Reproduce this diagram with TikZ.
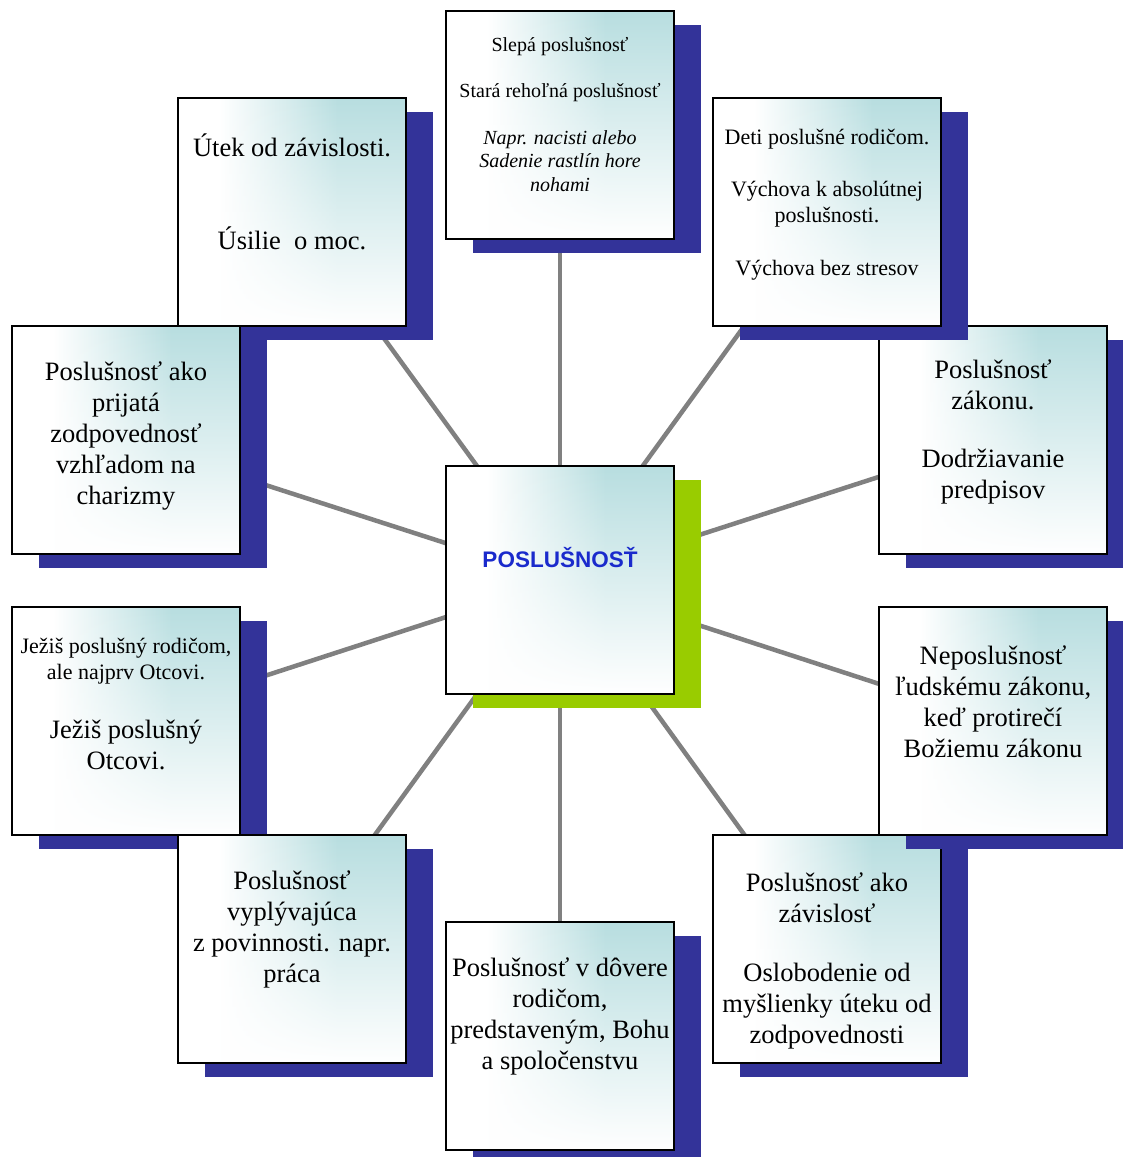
\documentclass[tikz,border=0pt]{standalone}
\usepackage{fontspec}
\setmainfont{Liberation Serif}
\newfontfamily\titlesans{Liberation Sans}
\usetikzlibrary{shadows,fadings,backgrounds}
\definecolor{boxteal}{RGB}{184,222,224}
\definecolor{shblue}{RGB}{51,51,153}
\definecolor{shgreen}{RGB}{153,204,0}
\definecolor{linegray}{RGB}{128,128,128}
\definecolor{titleblue}{RGB}{26,42,204}
\pgfdeclarehorizontalshading{boxh}{100bp}{color(0bp)=(white); color(34bp)=(white); color(60bp)=(boxteal); color(100bp)=(boxteal)}
\tikzfading[name=fadeup, top color=transparent!100, bottom color=transparent!0]
\begin{document}
\begin{tikzpicture}[x=1pt,y=1pt,
  card/.style={draw=black, line width=1.6pt, minimum width=228pt, minimum height=228pt,
    inner sep=0pt, shade, shading=boxh,
    path picture={\fill[white, path fading=fadeup]
      (path picture bounding box.south west) rectangle (path picture bounding box.north east);}},
  blueshadow/.style={drop shadow={shadow xshift=27pt, shadow yshift=-14pt, fill=shblue, opacity=1, draw=none}},
  greenshadow/.style={drop shadow={shadow xshift=27pt, shadow yshift=-14pt, fill=shgreen, opacity=1, draw=none}},
  bigtxt/.style={font=\fontsize{26.5}{31}\selectfont, align=center, inner sep=0pt},
  midtxt/.style={font=\fontsize{22}{25.5}\selectfont, align=center, inner sep=0pt},
  smalltxt/.style={font=\fontsize{20}{23.5}\selectfont, align=center, inner sep=0pt},
  titletxt/.style={font=\titlesans\bfseries\fontsize{22.5}{26}\selectfont, text=titleblue, inner sep=0pt},
  spoke/.style={draw=linegray, line width=4.5pt}
]
\useasboundingbox (0,0) rectangle (1123,1157);

% boxes (drawing order gives the overlaps)
\node[card, blueshadow] (n)  at (560,1032) {};
\node[card, blueshadow] (nw) at (292,945) {};
\node[card, blueshadow] (wn) at (126,717) {};
\node[card, blueshadow] (en) at (993,717) {};
\node[card, blueshadow] (ne) at (827,945) {};
\node[card, blueshadow] (ws) at (126,436) {};
\node[card, blueshadow] (sw) at (292,208) {};
\node[card, blueshadow] (se) at (827,208) {};
\node[card, blueshadow] (es) at (993,436) {};
\node[card, blueshadow] (s)  at (560,121) {};
\node[card, greenshadow] (c) at (560,577) {};

% white page and spokes behind everything
\begin{scope}[on background layer]
  \fill[white] (0,0) rectangle (1123,1157);
  \foreach \b in {n,nw,ne,wn,en,ws,es,sw,se,s}
    \draw[spoke] (c.center) -- (\b.center);
\end{scope}

% texts
\node[titletxt] (ct) at (560,599) {POSLUŠNOSŤ};

\node[smalltxt] (n1) at (560,1110) {Slepá poslušnosť};
\node[smalltxt] (n2) at (560,1064) {Stará rehoľná poslušnosť};
\node[smalltxt, font=\fontsize{20}{23.5}\selectfont\itshape] (n3) at (560,996) {Napr. nacisti alebo\\Sadenie rastlín hore\\nohami};

\node[bigtxt] (nw1) at (292,1012) {Útek od závislosti.};
\node[bigtxt] (nw2) at (292,919) {Úsilie\ \ o moc.};

\node[midtxt] (ne1) at (827,1018) {Deti poslušné rodičom.};
\node[midtxt] (ne2) at (827,953) {Výchova k absolútnej\\poslušnosti.};
\node[midtxt] (ne3) at (827,887) {Výchova bez stresov};

\node[bigtxt] (wn1) at (126,721) {Poslušnosť ako\\prijatá\\zodpovednosť\\vzhľadom na\\charizmy};

\node[bigtxt] (en1) at (993,772) {Poslušnosť\\zákonu.};
\node[bigtxt] (en2) at (993,680) {Dodržiavanie\\predpisov};

\node[midtxt] (ws1) at (126,496) {Ježiš poslušný rodičom,\\ale najprv Otcovi.};
\node[bigtxt] (ws2) at (126,412) {Ježiš poslušný\\Otcovi.};

\node[bigtxt] (es1) at (993,455) {Neposlušnosť\\ľudskému zákonu,\\keď protirečí\\Božiemu zákonu};

\node[bigtxt] (sw1) at (292,228) {Poslušnosť\\vyplývajúca\\z povinnosti. napr.\\práca};

\node[bigtxt] (se1) at (827,259) {Poslušnosť ako\\závislosť};
\node[bigtxt] (se2) at (827,151) {Oslobodenie od\\myšlienky úteku od\\zodpovednosti};

\node[bigtxt] (s1) at (560,141) {Poslušnosť v dôvere\\rodičom,\\predstaveným, Bohu\\a spoločenstvu};
\end{tikzpicture}
\end{document}
